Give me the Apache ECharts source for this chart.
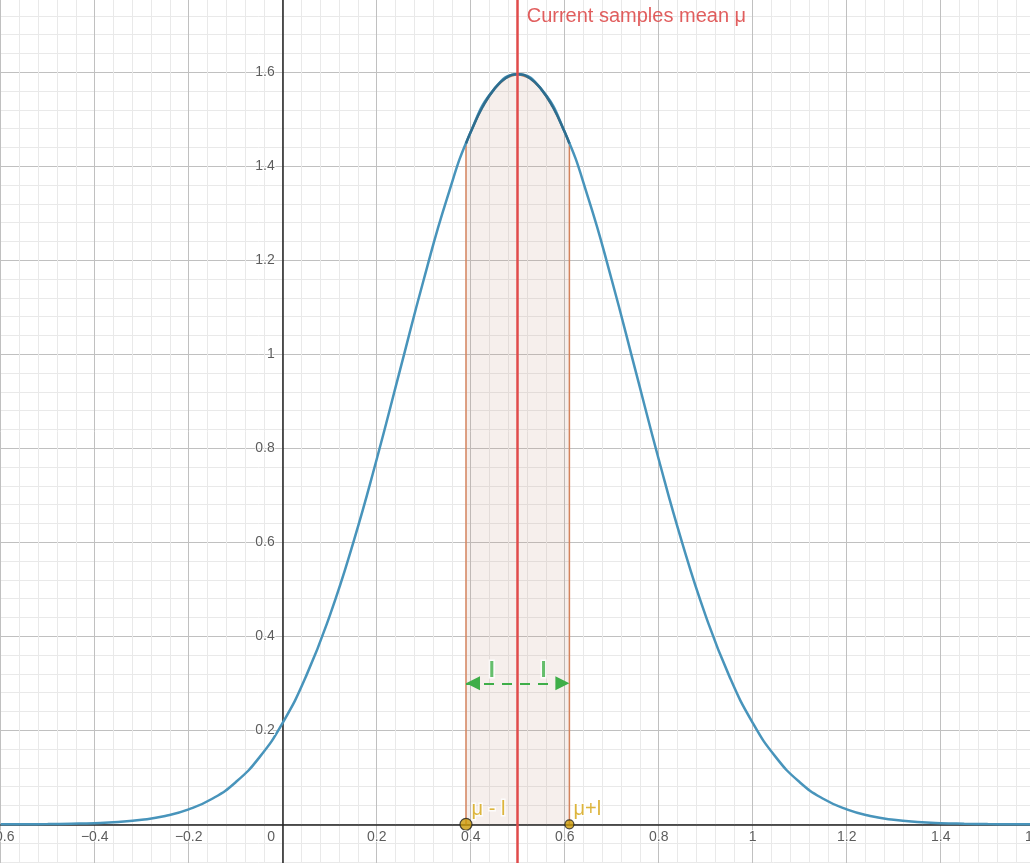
<!DOCTYPE html>
<html>
<head>
<meta charset="utf-8">
<script src="https://cdn.jsdelivr.net/npm/echarts@6/dist/echarts.min.js"></script>
<style>
html,body{margin:0;padding:0;background:#fff;}
#chart{width:1030px;height:863px;}
</style>
</head>
<body>
<div id="chart"></div>
<script>
// ---- data ----
const curveX = [-0.6,-0.55,-0.5,-0.45,-0.4,-0.35,-0.3,-0.25,-0.2,-0.15,-0.1,-0.05,0,0.05,0.1,0.15,0.2,0.25,0.3,0.35,0.4,0.45,0.5,0.55,0.6,0.65,0.7,0.75,0.8,0.85,0.9,0.95,1,1.05,1.1,1.15,1.2,1.25,1.3,1.35,1.4,1.45,1.5,1.55,1.6];
const curveY = [0.0001,0.0002,0.0005,0.0012,0.0024,0.0049,0.0095,0.0177,0.0317,0.0543,0.0896,0.1419,0.2160,0.3158,0.4436,0.5989,0.7768,0.9679,1.1587,1.3330,1.4731,1.5642,1.5958,1.5642,1.4731,1.3330,1.1587,0.9679,0.7768,0.5989,0.4436,0.3158,0.2160,0.1419,0.0896,0.0543,0.0317,0.0177,0.0095,0.0049,0.0024,0.0012,0.0005,0.0002,0.0001];
const bandX = [0.39,0.4,0.425,0.45,0.475,0.5,0.525,0.55,0.575,0.6,0.61];
const bandY = [1.4486,1.4731,1.5256,1.5642,1.5878,1.5958,1.5878,1.5642,1.5256,1.4731,1.4486];
const meanValue = 0.5;
const meanLabel = 'Current samples mean μ';
const meanLabelY = 1.718;
const pointX = [0.39, 0.61];
const pointLabels = ['μ - l', 'μ+l'];
const arrowY = 0.3;
const halfLabelX = [0.445, 0.555];
const halfLabelY = 0.326;
const halfLabels = ['l', 'l'];
const xTickValues = [-0.6,-0.4,-0.2,0,0.2,0.4,0.6,0.8,1,1.2,1.4,1.6];
const xTickLabels = ['\u22120.6','\u22120.4','\u22120.2','0','0.2','0.4','0.6','0.8','1','1.2','1.4','1.6'];
const yTickValues = [0.2,0.4,0.6,0.8,1,1.2,1.4,1.6];
const yTickLabels = ['0.2','0.4','0.6','0.8','1','1.2','1.4','1.6'];
const xRange = {min: -0.6, max: 1.6, major: 0.2, minor: 0.04};
const yRange = {min: -0.2, max: 1.8, major: 0.2, minor: 0.04};

// ---- build ----
const FONT = '"Liberation Sans", Arial, sans-serif';
const curveData = curveX.map((x, i) => [x, curveY[i]]);
const bandCurve = bandX.map((x, i) => [x, bandY[i]]);
const bandData = [[bandX[0], 0]].concat(bandCurve, [[bandX[bandX.length - 1], 0]]);

const gridAxisCommon = {
  type: 'value', axisTick: {show: false}, axisLabel: {show: false}
};

const chart = echarts.init(document.getElementById('chart'), null, {renderer: 'canvas'});
chart.setOption({
  animation: false,
  backgroundColor: '#fff',
  grid: {left: 0.7, right: -4.7, top: -21.7, bottom: -55.3, containLabel: false, outerBoundsMode: 'none'},
  xAxis: [
    Object.assign({}, gridAxisCommon, {
      min: xRange.min, max: xRange.max, interval: xRange.minor,
      axisLine: {show: false},
      splitLine: {show: true, lineStyle: {color: '#e9e9e9', width: 1}}
    }),
    Object.assign({}, gridAxisCommon, {
      min: xRange.min, max: xRange.max, interval: xRange.major,
      axisLine: {show: true, onZero: true, onZeroAxisIndex: 1, lineStyle: {color: '#222', width: 1.5}},
      splitLine: {show: true, lineStyle: {color: '#c0c0c0', width: 1}}
    })
  ],
  yAxis: [
    Object.assign({}, gridAxisCommon, {
      min: yRange.min, max: yRange.max, interval: yRange.minor,
      axisLine: {show: false},
      splitLine: {show: true, lineStyle: {color: '#e9e9e9', width: 1}}
    }),
    Object.assign({}, gridAxisCommon, {
      min: yRange.min, max: yRange.max, interval: yRange.major,
      position: 'left',
      axisLine: {show: true, onZero: true, onZeroAxisIndex: 1, lineStyle: {color: '#222', width: 1.5}},
      splitLine: {show: true, lineStyle: {color: '#c0c0c0', width: 1}}
    })
  ],
  series: [
    {
      type: 'line', data: bandData, smooth: false, symbol: 'none', z: 2,
      xAxisIndex: 1, yAxisIndex: 1,
      lineStyle: {color: '#d3835c', width: 1.5},
      areaStyle: {color: 'rgba(190,145,120,0.2)'}
    },
    {
      type: 'line', data: curveData, smooth: true, symbol: 'none', z: 3,
      xAxisIndex: 1, yAxisIndex: 1,
      lineStyle: {color: '#4894bb', width: 2.5}
    },
    {
      type: 'line', data: bandCurve, smooth: true, symbol: 'none', z: 4,
      xAxisIndex: 1, yAxisIndex: 1,
      lineStyle: {color: '#2e6d8e', width: 2.5}
    },
    {
      type: 'line', data: [], z: 5, xAxisIndex: 1, yAxisIndex: 1,
      markLine: {
        silent: true, symbol: 'none', animation: false,
        label: {show: false},
        lineStyle: {color: '#e04b4b', width: 2.5, type: 'solid'},
        data: [{xAxis: meanValue}]
      }
    },
    {
      type: 'scatter', data: [[meanValue, meanLabelY]], symbolSize: 0, z: 6, silent: true,
      xAxisIndex: 1, yAxisIndex: 1,
      label: {show: true, position: 'right', distance: 9, formatter: meanLabel,
        fontSize: 20, color: '#d93636', fontFamily: FONT}
    },
    {
      type: 'line', data: [], z: 6, xAxisIndex: 1, yAxisIndex: 1,
      markLine: {
        silent: true, animation: false,
        symbol: ['triangle', 'triangle'], symbolSize: 14, symbolOffset: [[0, 7], [0, 7]],
        label: {show: false},
        lineStyle: {color: '#3fae49', width: 2, type: [10, 8]},
        itemStyle: {color: '#3fae49'},
        data: [[{coord: [pointX[0], arrowY]}, {coord: [pointX[1], arrowY]}]]
      }
    },
    {
      type: 'scatter', data: halfLabelX.map((x, i) => ({value: [x, halfLabelY], name: halfLabels[i]})),
      symbolSize: 0, z: 7, silent: true, xAxisIndex: 1, yAxisIndex: 1,
      label: {show: true, position: 'inside', formatter: p => p.name,
        fontSize: 22, fontWeight: 'bold', color: '#3fae49', fontFamily: FONT,
        textBorderColor: '#fff', textBorderWidth: 3}
    },
    {
      type: 'scatter', z: 8, silent: true, xAxisIndex: 1, yAxisIndex: 1,
      data: pointX.map((x, i) => ({value: [x, 0], name: pointLabels[i], symbolSize: i === 0 ? 12 : 9})),
      itemStyle: {color: '#cc9a06', borderColor: '#222', borderWidth: 1.2},
      label: {show: true, position: 'right', distance: 0, offset: [-1, -15], formatter: p => p.name,
        fontSize: 20, color: '#d4a30c', fontFamily: FONT,
        textBorderColor: '#fff', textBorderWidth: 3}
    },
    // x tick labels
    {
      type: 'scatter', z: 9, silent: true, xAxisIndex: 1, yAxisIndex: 1, symbolSize: 0,
      data: xTickValues.map((x, i) => ({value: [x, 0], name: xTickLabels[i]})),
      label: {show: true, position: 'bottom', distance: 6,
        formatter: p => p.name === '0' ? '{z|0}' : p.name,
        fontSize: 14, color: '#333', fontFamily: FONT,
        textBorderColor: '#fff', textBorderWidth: 2,
        rich: {z: {fontSize: 14, color: '#333', fontFamily: FONT, padding: [0, 23, 0, 0]}}}
    },
    // y tick labels
    {
      type: 'scatter', z: 9, silent: true, xAxisIndex: 1, yAxisIndex: 1, symbolSize: 0,
      data: yTickValues.map((y, i) => ({value: [0, y], name: yTickLabels[i]})),
      label: {show: true, position: 'left', distance: 8, formatter: p => p.name,
        fontSize: 14, color: '#333', fontFamily: FONT,
        textBorderColor: '#fff', textBorderWidth: 2}
    }
  ]
});
</script>
</body>
</html>
